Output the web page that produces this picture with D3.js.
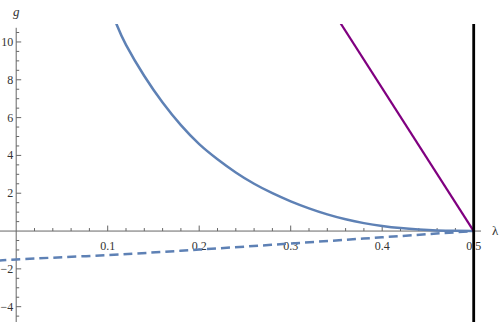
<!DOCTYPE html>
<html lang="en">
<head>
<meta charset="utf-8">
<title>g vs lambda</title>
<style>
  body { margin: 0; background: #fff; }
  svg { display: block; }
  .tick-label { font-family: "Liberation Serif", serif; font-size: 12px; fill: #333; }
  .axis-name { font-family: "Liberation Serif", serif; font-size: 13px; font-style: italic; fill: #333; }
</style>
<script src="https://d3js.org/d3.v7.min.js"></script>
</head>
<body>
<div id="chart"></div>
<script>
// solid blue curve
var curveX = [0.10, 0.11, 0.12, 0.14, 0.16, 0.18, 0.20, 0.22, 0.24, 0.26, 0.28, 0.30, 0.32, 0.34, 0.36, 0.38, 0.40, 0.42, 0.44, 0.46, 0.48, 0.50];
var curveY = [12.1, 10.9, 9.85, 8.2, 6.8, 5.6, 4.6, 3.8, 3.1, 2.5, 2.0, 1.57, 1.2, 0.88, 0.62, 0.42, 0.27, 0.16, 0.085, 0.035, 0.01, 0];

// dashed blue line
var dashX = [-0.02, 0.0, 0.1, 0.2, 0.3, 0.4, 0.5];
var dashY = [-1.6, -1.5, -1.27, -0.98, -0.66, -0.33, 0];

// purple line
var purpleX = [0.35, 0.5];
var purpleY = [11.33, 0];

// vertical black line
var vLineX = 0.5;

var xTicks = [0.1, 0.2, 0.3, 0.4, 0.5];
var yTicks = [-4, -2, 2, 4, 6, 8, 10];

var w = 500, h = 322;

var x = d3.scaleLinear().domain([0, 0.5]).range([16.2, 473.7]);
var y = d3.scaleLinear().domain([-4.81, 10.95]).range([322, 24]);

var svg = d3.select('#chart').append('svg')
  .attr('width', w)
  .attr('height', h);

svg.append('clipPath').attr('id', 'clip')
  .append('rect')
  .attr('x', 0).attr('y', y(10.95))
  .attr('width', w).attr('height', h - y(10.95));

var axisColor = '#666';

// minor + major ticks
var xMinor = d3.range(0.02, 0.501, 0.02);
var yMinor = d3.range(-4.5, 10.51, 0.5).filter(function(d) { return Math.abs(d) > 1e-9; });

var axes = svg.append('g');

axes.append('line')
  .attr('x1', 0).attr('x2', x(0.508))
  .attr('y1', y(0)).attr('y2', y(0))
  .attr('stroke', axisColor).attr('stroke-width', 1);

axes.append('line')
  .attr('x1', x(0)).attr('x2', x(0))
  .attr('y1', y(10.75)).attr('y2', h)
  .attr('stroke', axisColor).attr('stroke-width', 1);

axes.selectAll('.xminor').data(xMinor).enter().append('line')
  .attr('x1', function(d) { return x(d); })
  .attr('x2', function(d) { return x(d); })
  .attr('y1', y(0))
  .attr('y2', function(d) {
    var major = Math.abs(d * 10 - Math.round(d * 10)) < 1e-6;
    return y(0) - (major ? 5.5 : 3);
  })
  .attr('stroke', axisColor).attr('stroke-width', 1);

axes.selectAll('.yminor').data(yMinor).enter().append('line')
  .attr('y1', function(d) { return y(d); })
  .attr('y2', function(d) { return y(d); })
  .attr('x1', x(0))
  .attr('x2', function(d) {
    var major = Math.abs(d / 2 - Math.round(d / 2)) < 1e-6;
    return x(0) + (major ? 5 : 3);
  })
  .attr('stroke', axisColor).attr('stroke-width', 1);

axes.selectAll('.xlab').data(xTicks).enter().append('text')
  .attr('class', 'tick-label')
  .attr('x', function(d) { return x(d); })
  .attr('y', y(0) + 19)
  .attr('text-anchor', 'middle')
  .text(function(d) { return d3.format('.1f')(d); });

axes.selectAll('.ylab').data(yTicks).enter().append('text')
  .attr('class', 'tick-label')
  .attr('x', x(0) - 3)
  .attr('y', function(d) { return y(d) + 4; })
  .attr('text-anchor', 'end')
  .text(function(d) { return d < 0 ? '\u2212' + Math.abs(d) : d; });

svg.append('text').attr('class', 'axis-name')
  .attr('x', x(0)).attr('y', 16)
  .attr('text-anchor', 'middle')
  .text('g');

svg.append('text').attr('class', 'axis-name')
  .attr('x', 492).attr('y', y(0) + 4)
  .attr('text-anchor', 'start')
  .style('font-style', 'normal')
  .text('\u03bb');

var plot = svg.append('g').attr('clip-path', 'url(#clip)');

var line = d3.line()
  .x(function(d) { return x(d[0]); })
  .y(function(d) { return y(d[1]); });

plot.append('path')
  .datum(d3.zip(dashX, dashY))
  .attr('d', line.curve(d3.curveNatural))
  .attr('fill', 'none')
  .attr('stroke', '#5E81B5')
  .attr('stroke-width', 2.5)
  .attr('stroke-dasharray', '9,5');

plot.append('path')
  .datum(d3.zip(curveX, curveY))
  .attr('d', line.curve(d3.curveNatural))
  .attr('fill', 'none')
  .attr('stroke', '#5E81B5')
  .attr('stroke-width', 2.5);

plot.append('path')
  .datum(d3.zip(purpleX, purpleY))
  .attr('d', line.curve(d3.curveLinear))
  .attr('fill', 'none')
  .attr('stroke', '#800080')
  .attr('stroke-width', 2.2);

plot.append('line')
  .attr('x1', x(vLineX)).attr('x2', x(vLineX))
  .attr('y1', y(10.95)).attr('y2', h)
  .attr('stroke', '#000')
  .attr('stroke-width', 2.8);
</script>
</body>
</html>
